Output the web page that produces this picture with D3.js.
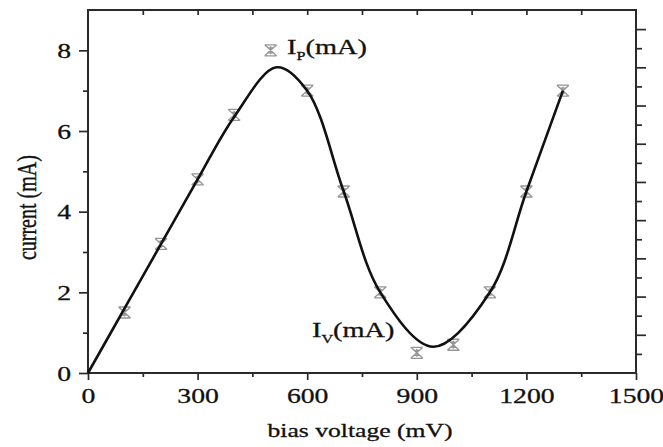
<!DOCTYPE html>
<html>
<head>
<meta charset="utf-8">
<script src="https://cdn.jsdelivr.net/npm/d3@7"></script>
<style>
  body { margin: 0; background: #fff; }
  text { font-family: "Liberation Serif", "DejaVu Serif", serif; fill: #111; }
</style>
</head>
<body>
<div id="chart"></div>
<script>
// measured points (bias voltage in mV, current in mA)
var biasV = [100, 200, 300, 400, 500, 600, 700, 800, 900, 1000, 1100, 1200, 1300];
var currentMA = [1.5, 3.2, 4.8, 6.4, 8.0, 7.0, 4.5, 2.0, 0.5, 0.7, 2.0, 4.5, 7.0];

// fitted curve
var fitV = [0, 100, 200, 300, 400, 516, 600, 700, 800, 945, 1100, 1200, 1300];
var fitI = [0, 1.6, 3.2, 4.8, 6.35, 7.58, 7.0, 4.5, 2.0, 0.65, 2.0, 4.5, 7.0];

var xTicks = [0, 300, 600, 900, 1200, 1500];
var yTicks = [0, 2, 4, 6, 8];

var W = 663, H = 447;
var margin = { top: 10, right: 27, bottom: 74, left: 88 },
  width = W - margin.left - margin.right,
  height = H - margin.top - margin.bottom;
var stretch = 1.35; // the text in the picture is wider than it is tall

var svg = d3
  .select("#chart")
  .append("svg")
  .attr("width", W)
  .attr("height", H)
  .append("g")
  .attr("transform", "translate(" + margin.left + "," + margin.top + ")");

var x = d3.scaleLinear().domain([0, 1500]).range([0, width]);
var y = d3.scaleLinear().domain([0, 9]).range([height, 0]);
// right axis has its own tick spacing
var yRight = d3.scaleLinear().domain([0, 9.5]).range([height, 0]);

var axisColor = "#2a2a2a";

function styleAxis(g) {
  g.select(".domain").remove();
  g.selectAll("line").attr("stroke", axisColor).attr("stroke-width", 1.7);
}

// minor ticks
var xMinor = d3.range(150, 1500, 300);
var yMinor = [1, 3, 5, 7];
var rMinor = d3.range(0.5, 9.5, 1);

// bottom axis
svg.append("g")
  .attr("transform", "translate(0," + height + ")")
  .call(d3.axisBottom(x).tickValues(xMinor).tickSize(4).tickFormat(""))
  .call(styleAxis);
var gx = svg.append("g")
  .attr("transform", "translate(0," + height + ")")
  .call(d3.axisBottom(x).tickValues(xTicks).tickSize(7).tickPadding(0).tickFormat(d3.format("d")))
  .call(styleAxis);
gx.selectAll("text")
  .attr("y", 30).attr("dy", 0)
  .attr("transform", "scale(" + stretch + ",1)")
  .style("font-size", "20.5px").style("fill", "#111")
  .style("stroke", "#111").style("stroke-width", 0.3);

// top axis (inward ticks)
svg.append("g")
  .call(d3.axisBottom(x).tickValues(d3.range(150, 1500, 150)).tickSize(5).tickFormat(""))
  .call(styleAxis);

// left axis
svg.append("g")
  .call(d3.axisLeft(y).tickValues(yMinor).tickSize(5).tickFormat(""))
  .call(styleAxis);
var gy = svg.append("g")
  .call(d3.axisLeft(y).tickValues(yTicks).tickSize(9).tickFormat(d3.format("d")))
  .call(styleAxis);
gy.selectAll("text")
  .attr("x", -17 / stretch).attr("dy", "0.35em")
  .attr("transform", "scale(" + stretch + ",1)")
  .style("font-size", "20.5px").style("fill", "#111")
  .style("stroke", "#111").style("stroke-width", 0.3);

// right axis (outward ticks)
svg.append("g")
  .attr("transform", "translate(" + width + ",0)")
  .call(d3.axisRight(yRight).tickValues(rMinor).tickSize(6).tickFormat(""))
  .call(styleAxis);
svg.append("g")
  .attr("transform", "translate(" + width + ",0)")
  .call(d3.axisRight(yRight).tickValues(d3.range(1, 9.5, 1)).tickSize(10).tickFormat(""))
  .call(styleAxis);

// frame
svg.append("rect")
  .attr("width", width)
  .attr("height", height)
  .attr("fill", "none")
  .attr("stroke", axisColor)
  .attr("stroke-width", 2);

// markers
var marker = "M-6,-5.5L6,5.5M6,-5.5L-6,5.5M-6,-5.5L6,-5.5M-6,5.5L6,5.5M0,-4L0,4M-3,-2.5L3,-2.5M-3,2.5L3,2.5";
svg.selectAll(".pt")
  .data(biasV)
  .enter()
  .append("path")
  .attr("class", "pt")
  .attr("d", marker)
  .attr("transform", function (d, i) { return "translate(" + x(d) + "," + y(currentMA[i]) + ")"; })
  .attr("fill", "none")
  .attr("stroke", "#969696")
  .attr("stroke-width", 1.3);

// fitted curve
var line = d3.line()
  .x(function (d, i) { return x(d); })
  .y(function (d, i) { return y(fitI[i]); })
  .curve(d3.curveCatmullRom.alpha(0.5));
svg.append("path")
  .attr("d", line(fitV))
  .attr("fill", "none")
  .attr("stroke", "#111")
  .attr("stroke-width", 2.6);

// annotations
function subLabel(px, py, sub) {
  var t = svg.append("text")
    .attr("transform", "translate(" + px + "," + py + ") scale(" + stretch + ",1)")
    .style("font-size", "21px")
    .style("stroke", "#111").style("stroke-width", 0.3);
  t.append("tspan").text("I");
  t.append("tspan").attr("dy", 6).style("font-size", "12px").text(sub);
  t.append("tspan").attr("dy", -6).text("(mA)");
}
subLabel(x(545), y(7.92), "P");
subLabel(x(613), y(0.9), "V");

// axis titles
svg.append("text")
  .attr("transform", "translate(" + (width / 2 - 2) + "," + (height + 64) + ") scale(" + stretch + ",1)")
  .attr("text-anchor", "middle")
  .style("font-size", "19px")
  .style("stroke", "#111").style("stroke-width", 0.3)
  .text("bias voltage (mV)");

svg.append("text")
  .attr("transform", "translate(" + (-60) + "," + (y(4.1)) + ") scale(" + stretch + ",1) rotate(-90)")
  .attr("text-anchor", "middle")
  .attr("dy", "0.3em")
  .style("font-size", "20px")
  .style("stroke", "#111").style("stroke-width", 0.3)
  .text("current (mA)");
</script>
</body>
</html>
